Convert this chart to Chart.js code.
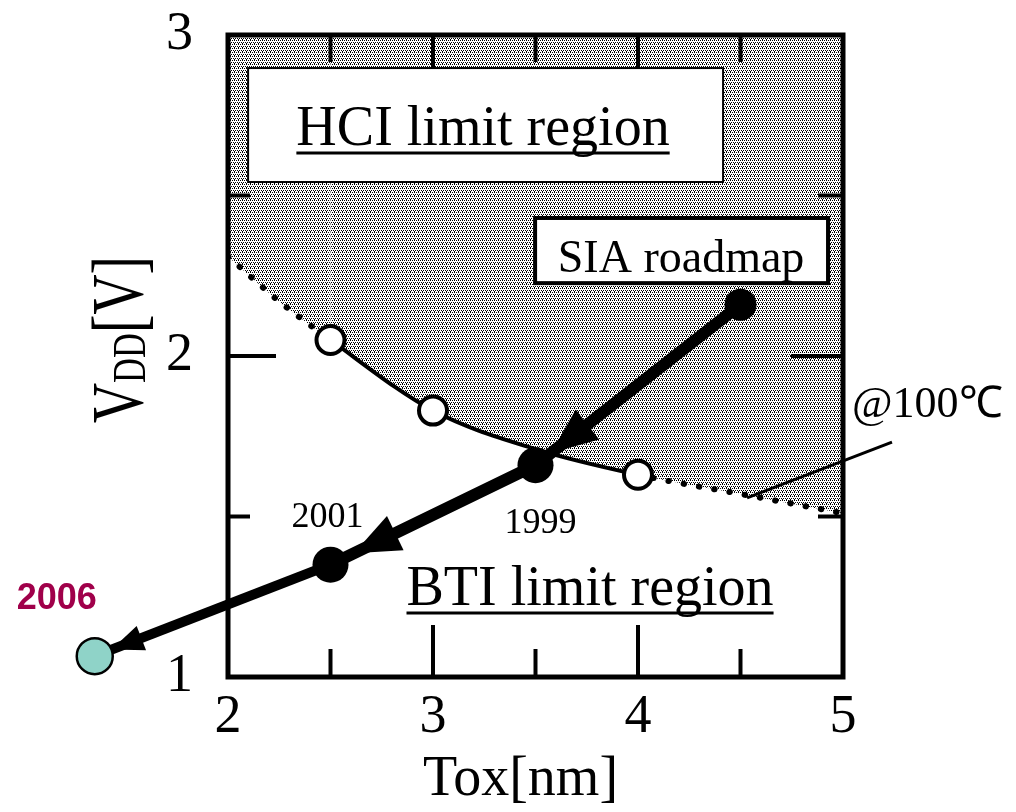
<!DOCTYPE html>
<html><head><meta charset="utf-8">
<script src="https://cdn.jsdelivr.net/npm/chart.js@4/dist/chart.umd.min.js"></script>
<style>html,body{margin:0;padding:0;background:#fff}#wrap{width:1016px;height:812px;position:relative}</style>
</head><body><div id="wrap"><canvas id="c"></canvas></div>
<script>
// ---- data ----
const xTicks = [2, 3, 4, 5];
const xMinorTicks = [2.5, 3.5, 4.5];
const yTicks = [1, 2, 3];
const yMinorTicks = [1.5, 2.5];
const boundaryTox = [2, 2.25, 2.5, 3, 3.5, 4, 4.5, 5];
const boundaryVdd = [2.31, 2.17, 2.05, 1.83, 1.71, 1.63, 1.57, 1.51];
const hciTox = [2.5, 3, 4];
const hciVdd = [2.05, 1.83, 1.63];
const roadmapTox = [4.5, 3.5, 2.5, 1.35];
const roadmapVdd = [2.16, 1.66, 1.35, 1.065];
const roadmapYears = ['', '1999', '2001', '2006'];

const SERIF = "'Liberation Serif','Times New Roman',serif";
const SANS = "'Liberation Sans',Arial,sans-serif";

function makePattern() {
  const c = document.createElement('canvas');
  c.width = 4; c.height = 4;
  const g = c.getContext('2d');
  g.fillStyle = '#fff'; g.fillRect(0, 0, 4, 4);
  g.fillStyle = '#000';
  const dots = [[0, 0], [2, 0], [1, 2], [3, 2], [2, 3]];
  dots.forEach(([x, y]) => g.fillRect(x, y, 1, 1));
  return g.createPattern(c, 'repeat');
}
const hatch = makePattern();

function line(ctx, x1, y1, x2, y2) { ctx.beginPath(); ctx.moveTo(x1, y1); ctx.lineTo(x2, y2); ctx.stroke(); }

function arrowHead(ctx, fx, fy, cx, cy, gap, len, hw) {
  const dx = cx - fx, dy = cy - fy, d = Math.hypot(dx, dy);
  const ux = dx / d, uy = dy / d;
  const tx = cx - ux * gap, ty = cy - uy * gap;
  const bx = tx - ux * len, by = ty - uy * len;
  ctx.beginPath();
  ctx.moveTo(tx, ty);
  ctx.lineTo(bx - uy * hw, by + ux * hw);
  ctx.lineTo(bx + uy * hw, by - ux * hw);
  ctx.closePath();
  ctx.fill();
}

function underlined(ctx, text, cx, baseY, font, uOff, uw) {
  ctx.font = font;
  ctx.textAlign = 'center';
  ctx.textBaseline = 'alphabetic';
  ctx.fillText(text, cx, baseY);
  const w = ctx.measureText(text).width;
  ctx.lineWidth = uw;
  line(ctx, cx - w / 2, baseY + uOff, cx + w / 2, baseY + uOff);
}

const decor = {
  id: 'decor',
  afterDatasetDraw(chart, args) {
    if (chart.data.datasets[args.index].label !== 'boundary') return;
    const ctx = chart.ctx, a = chart.chartArea;
    const xs = chart.scales.x, ys = chart.scales.y;
    const px = v => xs.getPixelForValue(v), py = v => ys.getPixelForValue(v);
    ctx.save();
    ctx.strokeStyle = '#000';
    ctx.lineCap = 'butt';
    // inward ticks
    ctx.lineWidth = 4;
    yTicks.forEach(v => { if (v > ys.min && v < ys.max) { line(ctx, a.left, py(v), a.left + 48, py(v)); line(ctx, a.right, py(v), a.right - 52, py(v)); } });
    yMinorTicks.forEach(v => { line(ctx, a.left, py(v), a.left + 22, py(v)); line(ctx, a.right, py(v), a.right - 25, py(v)); });
    xTicks.forEach(v => { if (v > xs.min && v < xs.max) { line(ctx, px(v), a.bottom, px(v), a.bottom - 52); line(ctx, px(v), a.top, px(v), a.top + 48); } });
    xMinorTicks.forEach(v => { line(ctx, px(v), a.bottom, px(v), a.bottom - 28); line(ctx, px(v), a.top, px(v), a.top + 27); });
    // frame
    ctx.lineWidth = 5;
    ctx.strokeRect(a.left, a.top, a.right - a.left, a.bottom - a.top);
    // HCI box
    const hx1 = px(2.098), hx2 = px(4.415), hy1 = py(2.897), hy2 = py(2.542);
    ctx.fillStyle = '#fff';
    ctx.fillRect(hx1, hy1, hx2 - hx1, hy2 - hy1);
    ctx.lineWidth = 2;
    ctx.strokeRect(hx1, hy1, hx2 - hx1, hy2 - hy1);
    // SIA box
    const sx1 = px(3.498), sx2 = px(4.927), sy1 = py(2.430), sy2 = py(2.227);
    ctx.fillRect(sx1, sy1, sx2 - sx1, sy2 - sy1);
    ctx.lineWidth = 4;
    ctx.strokeRect(sx1, sy1, sx2 - sx1, sy2 - sy1);
    ctx.restore();
  },
  afterDatasetsDraw(chart) {
    const ctx = chart.ctx, a = chart.chartArea;
    const xs = chart.scales.x, ys = chart.scales.y;
    const px = v => xs.getPixelForValue(v), py = v => ys.getPixelForValue(v);
    ctx.save();
    ctx.fillStyle = '#000';
    ctx.strokeStyle = '#000';
    // region labels
    underlined(ctx, 'HCI limit region', px(3.244), py(2.657), '56px ' + SERIF, 8, 3);
    underlined(ctx, 'BTI limit region', px(3.766), py(1.224), '56px ' + SERIF, 8, 3);
    ctx.font = '46px ' + SERIF;
    ctx.textAlign = 'center';
    ctx.fillText('SIA roadmap', px(4.21), py(2.262));
    // @100C
    ctx.lineWidth = 3;
    line(ctx, px(4.532), py(1.558), px(5.239), py(1.732));
    ctx.font = '44px ' + SERIF;
    ctx.textAlign = 'left';
    ctx.textBaseline = 'middle';
    ctx.fillText('@100\u2103', px(5.044), py(1.847));
    // roadmap points
    const P = roadmapTox.map((t, i) => ({ x: px(t), y: py(roadmapVdd[i]) }));
    // arrowheads
    arrowHead(ctx, P[0].x, P[0].y, P[1].x, P[1].y, 20, 46, 19);
    arrowHead(ctx, P[1].x, P[1].y, P[2].x, P[2].y, 26, 46, 19);
    // 2006 point (outside plot area)
    ctx.beginPath();
    ctx.arc(P[3].x, P[3].y, 18, 0, Math.PI * 2);
    ctx.fillStyle = '#8fd3c8';
    ctx.fill();
    ctx.lineWidth = 2.5;
    ctx.stroke();
    ctx.fillStyle = '#000';
    arrowHead(ctx, P[2].x, P[2].y, P[3].x, P[3].y, 18, 32, 13);
    // year labels
    ctx.textAlign = 'center';
    ctx.textBaseline = 'middle';
    ctx.font = '36px ' + SERIF;
    ctx.fillText(roadmapYears[1], P[1].x + 5, P[1].y + 58);
    ctx.fillText(roadmapYears[2], P[2].x - 3, P[2].y - 47);
    ctx.font = 'bold 36px ' + SANS;
    ctx.fillStyle = '#a0004a';
    ctx.fillText(roadmapYears[3], P[3].x - 38, P[3].y - 57);
    // axis titles
    ctx.fillStyle = '#000';
    ctx.font = '56px ' + SERIF;
    ctx.textBaseline = 'middle';
    ctx.fillText('Tox[nm]', (a.left + a.right) / 2 - 15, 780);
    // y title rotated, condensed
    ctx.save();
    ctx.translate(143, 423);
    ctx.rotate(-Math.PI / 2);
    ctx.scale(0.75, 1);
    ctx.textAlign = 'left';
    ctx.textBaseline = 'alphabetic';
    ctx.font = '74px ' + SERIF;
    let x = 0;
    ctx.fillText('V', x, 0); x += ctx.measureText('V').width;
    ctx.font = '46px ' + SERIF;
    ctx.fillText('DD', x, 2); x += ctx.measureText('DD').width;
    ctx.font = '74px ' + SERIF;
    ctx.fillText('[V]', x, 0);
    ctx.restore();
    ctx.restore();
  }
};

const boundaryData = boundaryTox.map((t, i) => ({ x: t, y: boundaryVdd[i] }));
const hciData = hciTox.map((t, i) => ({ x: t, y: hciVdd[i] }));
const roadmapData = roadmapTox.map((t, i) => ({ x: t, y: roadmapVdd[i] }));
const isDotted = i => boundaryTox[i] < hciTox[0] || boundaryTox[i] >= hciTox[hciTox.length - 1];

new Chart(document.getElementById('c'), {
  type: 'scatter',
  data: {
    datasets: [
      {
        label: 'roadmap', data: roadmapData, order: 0, showLine: true, clip: false,
        borderColor: '#000', borderWidth: 12, borderCapStyle: 'butt',
        pointRadius: [16, 18, 18, 0], pointBackgroundColor: '#000', pointBorderWidth: 0,
        segment: { borderWidth: c => c.p0DataIndex === 2 ? 10 : 12 }
      },
      {
        label: 'hci', data: hciData, order: 1, showLine: false,
        pointRadius: 14, pointBackgroundColor: '#fff', pointBorderColor: '#000', pointBorderWidth: 4
      },
      {
        label: 'boundary', data: boundaryData, order: 2, showLine: true,
        cubicInterpolationMode: 'monotone', borderColor: '#000', borderWidth: 4, borderDash: [],
        pointRadius: 0, fill: 'end', backgroundColor: hatch,
        segment: {
          borderDash: c => isDotted(c.p0DataIndex) ? [0.5, 15] : [],
          borderCapStyle: c => isDotted(c.p0DataIndex) ? 'round' : 'butt',
          borderWidth: c => isDotted(c.p0DataIndex) ? 6 : 4
        }
      }
    ]
  },
  options: {
    responsive: true, maintainAspectRatio: false, animation: false, devicePixelRatio: 1, events: [],
    layout: { padding: { left: 0, right: 173, top: 35, bottom: 0 } },
    plugins: { legend: { display: false }, tooltip: { enabled: false } },
    scales: {
      x: {
        type: 'linear', min: 2, max: 5,
        grid: { display: false, drawTicks: false }, border: { display: false },
        ticks: { stepSize: 1, padding: 8, color: '#000', font: { family: SERIF, size: 54 }, callback: v => xTicks.includes(v) ? String(v) : '' },
        afterFit: s => { s.height = 135; s.paddingLeft = 0; s.paddingRight = 0; }
      },
      y: {
        type: 'linear', min: 1, max: 3,
        grid: { display: false, drawTicks: false }, border: { display: false },
        ticks: { stepSize: 1, padding: 35, color: '#000', font: { family: SERIF, size: 54 }, callback: v => yTicks.includes(v) ? String(v) : '' },
        afterFit: s => { s.width = 228; s.paddingTop = 0; s.paddingBottom = 0; }
      }
    }
  },
  plugins: [decor]
});
</script>
</body></html>
